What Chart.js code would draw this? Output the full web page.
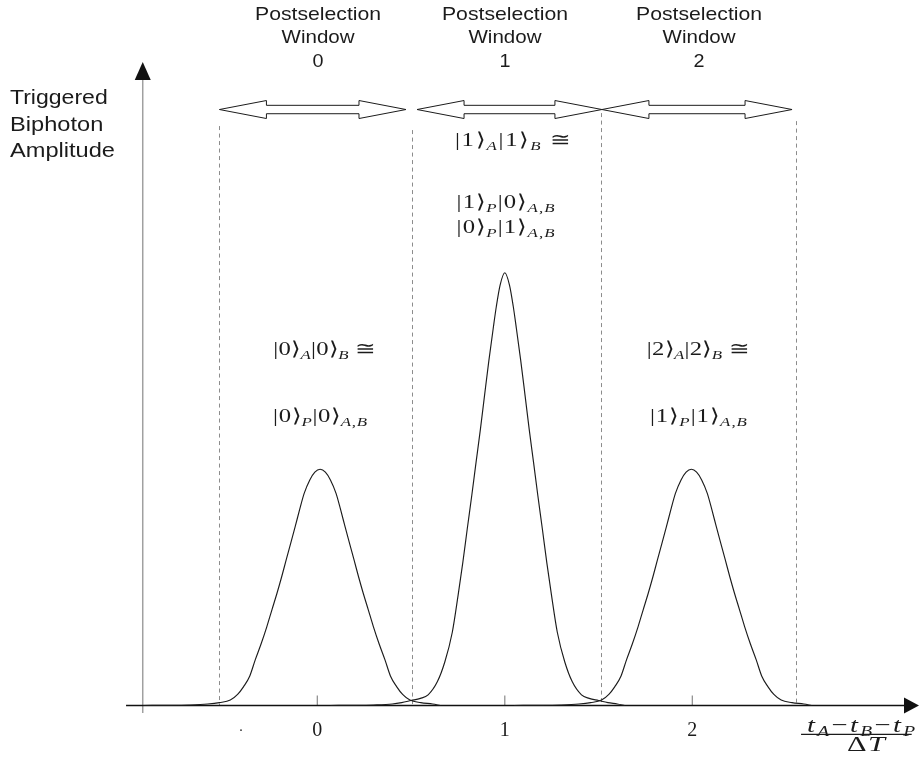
<!DOCTYPE html>
<html>
<head>
<meta charset="utf-8">
<script src="https://cdn.jsdelivr.net/npm/chart.js@4/dist/chart.umd.min.js"></script>
<style>
  html, body { margin: 0; padding: 0; background: #fff; }
  #wrap { width: 920px; height: 758px; position: relative; }
</style>
</head>
<body>
<div id="wrap"><canvas id="c"></canvas></div>
<script>
// Triggered biphoton amplitude versus (tA - tB - tP)/ΔT, one peak per postselection window.
// Amplitudes are relative to the window-0 peak.
const peak0X = [-0.93, -0.785, -0.685, -0.585, -0.522, -0.464, -0.425, -0.393, -0.36, -0.331, -0.30, -0.269,
                -0.242, -0.215, -0.19, -0.166, -0.142, -0.118, -0.094, -0.07, -0.04, -0.013, 0.015,
                0.043, 0.07, 0.10, 0.124, 0.148, 0.172, 0.196, 0.22, 0.245, 0.272, 0.299, 0.33, 0.361,
                0.39, 0.423, 0.455, 0.494, 0.552, 0.615, 0.656];
const peak0Y = [0, 0.0005, 0.002, 0.006, 0.012, 0.023, 0.047, 0.080, 0.125, 0.193, 0.260, 0.334,
                0.405, 0.475, 0.545, 0.616, 0.686, 0.757, 0.830, 0.898, 0.955, 0.988, 1.0,
                0.988, 0.955, 0.898, 0.830, 0.757, 0.686, 0.616, 0.545, 0.475, 0.405, 0.334, 0.260, 0.193,
                0.125, 0.080, 0.047, 0.023, 0.012, 0.006, 0];

const peak1X = [0.07, 0.20, 0.30, 0.40, 0.45, 0.50, 0.55, 0.591, 0.64, 0.68, 0.72, 0.751,
                0.776, 0.80, 0.824, 0.847, 0.87, 0.892, 0.915, 0.938, 0.955, 0.975, 1.0,
                1.025, 1.045, 1.062, 1.085, 1.108, 1.13, 1.153, 1.176, 1.20, 1.224, 1.249, 1.28, 1.32,
                1.36, 1.409, 1.45, 1.50, 1.55, 1.60, 1.64];
const peak1Y = [0, 0.0005, 0.002, 0.006, 0.012, 0.021, 0.03, 0.045, 0.10, 0.184, 0.31, 0.467,
                0.605, 0.749, 0.89, 1.031, 1.17, 1.313, 1.46, 1.595, 1.69, 1.78, 1.832,
                1.78, 1.69, 1.595, 1.46, 1.313, 1.17, 1.031, 0.89, 0.749, 0.605, 0.467, 0.31, 0.184,
                0.10, 0.045, 0.03, 0.021, 0.012, 0.006, 0];

const peak2X = [1.05, 1.195, 1.295, 1.395, 1.458, 1.516, 1.555, 1.587, 1.62, 1.649, 1.68, 1.711,
                1.738, 1.765, 1.79, 1.814, 1.838, 1.862, 1.886, 1.91, 1.94, 1.967, 1.995,
                2.023, 2.05, 2.08, 2.104, 2.128, 2.152, 2.176, 2.20, 2.225, 2.252, 2.279, 2.31, 2.341,
                2.37, 2.403, 2.435, 2.474, 2.532, 2.595, 2.636];
const peak2Y = [0, 0.0005, 0.002, 0.006, 0.012, 0.023, 0.047, 0.080, 0.125, 0.193, 0.260, 0.334,
                0.405, 0.475, 0.545, 0.616, 0.686, 0.757, 0.830, 0.898, 0.955, 0.988, 1.0,
                0.988, 0.955, 0.898, 0.830, 0.757, 0.686, 0.616, 0.545, 0.475, 0.405, 0.334, 0.260, 0.193,
                0.125, 0.080, 0.047, 0.023, 0.012, 0.006, 0];

const tickValues = [0, 1, 2];
const tickLabels = ["0", "1", "2"];

const windowWords = ["Postselection", "Window"];
const windowIds = ["0", "1", "2"];
const windowEdges = [-0.522, 0.507, 1.512, 2.551];

const yTitleLines = ["Triggered", "Biphoton", "Amplitude"];
const xTitleNum = "t_A\u2212t_B\u2212t_P";
const xTitleDen = "\u0394T";

const stateLabels0 = ["|0\u27E9_A|0\u27E9_B \u2245", "|0\u27E9_P|0\u27E9_{A,B}"];
const stateLabels1 = ["|1\u27E9_A|1\u27E9_B \u2245", "|1\u27E9_P|0\u27E9_{A,B}", "|0\u27E9_P|1\u27E9_{A,B}"];
const stateLabels2 = ["|2\u27E9_A|2\u27E9_B \u2245", "|1\u27E9_P|1\u27E9_{A,B}"];

// ---- drawing setup ----
const X_MIN = -1.0, X_MAX = 3.2, Y_MIN = -0.2, Y_MAX = 2.8;
const SERIF = "'Liberation Serif', 'DejaVu Serif', serif";
const BRACKET = "'Noto Sans CJK JP', 'DejaVu Sans', serif";
const SANS = "'Liberation Sans', Arial, sans-serif";
const INK = '#1b1b1b';

// placement of annotations, in data units
const place = {
  titleX: [0.004, 1.001, 2.036],
  titleRows: [2.904, 2.805, 2.703],
  titleW: [126, 73],
  yTitleX: -1.639,
  yTitleRows: [2.5465, 2.4335, 2.321],
  yTitleW: [97.7, 93.3, 105],
  edgeTops: [2.453, 2.436, 2.508, 2.474],
  arrowY: 2.523,
  arrowSpans: [[-0.522, 0.473], [0.532, 1.518], [1.518, 2.532]],
  yAxisX: -0.931, yAxisLow: -0.032, yAxisTip: 2.724,
  xAxisLow: -1.02, xAxisTip: 3.209,
  tickLabelY: -0.131,
  dot: [-0.407, -0.108],
  states0: { x: [-0.235, -0.236], y: [1.484, 1.2015], w: [103, 94] },
  states1: { x: [0.734, 0.743, 0.743], y: [2.369, 2.105, 2.002], w: [116, 98, 98] },
  states2: { x: [1.757, 1.774], y: [1.484, 1.2015], w: [103, 97] },
  fracX: 2.90, numY: -0.111, barY: -0.122, denY: -0.193, barSpan: [2.580, 3.170], numW: 108, denW: 38
};

function parseTex(s) {
  const out = [];
  let i = 0;
  while (i < s.length) {
    if (s[i] === '_') {
      let sub;
      if (s[i + 1] === '{') { const j = s.indexOf('}', i); sub = s.slice(i + 2, j); i = j + 1; }
      else { sub = s[i + 1]; i += 2; }
      for (const ch of sub) out.push({ t: ch, sub: true, it: /[A-Za-z]/.test(ch) });
    } else {
      const ch = s[i];
      out.push({ t: ch, sub: false, it: /[A-Za-z]/.test(ch) });
      i++;
    }
  }
  return out;
}

// Draws a small formula; glyphs are widened at most by maxStretch, the rest of
// the requested width goes into the gaps between glyphs.
function drawTex(ctx, str, x, y, o) {
  const segs = parseTex(str);
  let total = 0;
  segs.forEach(sg => {
    const size = sg.sub ? o.sub : o.size;
    if (sg.t === '\u27E9') sg.font = '300 ' + size + 'px ' + BRACKET;
    else sg.font = (sg.it ? 'italic ' : '') + size + 'px ' + SERIF;
    ctx.font = sg.font;
    const m = ctx.measureText(sg.t);
    // use the inked extent for brackets so a wide em box does not add space
    sg.w = sg.t === '\u27E9' ? Math.min(m.width, (m.actualBoundingBoxRight + m.actualBoundingBoxLeft) + size * 0.12) : m.width;
    sg.lead = sg.t === '\u27E9' ? Math.min(0, -m.actualBoundingBoxLeft + size * 0.04) : 0;
    total += sg.w;
  });
  let sx = 1, gap = 0;
  if (o.width) {
    sx = Math.min(o.width / total, o.maxStretch || 1.12);
    if (segs.length > 1) gap = (o.width - total * sx) / (segs.length - 1);
  }
  const full = total * sx + gap * (segs.length - 1);
  const start = o.align === 'center' ? x - full / 2 : x;
  ctx.save();
  ctx.fillStyle = INK;
  ctx.textAlign = 'left';
  ctx.textBaseline = 'alphabetic';
  let cx = start;
  segs.forEach(sg => {
    ctx.save();
    ctx.translate(cx, y + (sg.sub ? o.subDy : 0));
    ctx.scale(sx, 1);
    ctx.font = sg.font;
    ctx.fillText(sg.t, sg.lead || 0, 0);
    ctx.restore();
    cx += sg.w * sx + gap;
  });
  ctx.restore();
}

function drawSans(ctx, str, x, y, size, width, align) {
  ctx.save();
  ctx.font = size + 'px ' + SANS;
  const w = ctx.measureText(str).width;
  const sx = width ? width / w : 1;
  const start = align === 'center' ? x - w * sx / 2 : x;
  ctx.translate(start, y);
  ctx.scale(sx, 1);
  ctx.fillStyle = INK;
  ctx.textAlign = 'left';
  ctx.textBaseline = 'alphabetic';
  ctx.fillText(str, 0, 0);
  ctx.restore();
}

function hollowArrow(ctx, xa, xb, yc) {
  const L = 47, H = 9, h = 4.2;
  ctx.beginPath();
  ctx.moveTo(xa, yc);
  ctx.lineTo(xa + L, yc - H);
  ctx.lineTo(xa + L, yc - h);
  ctx.lineTo(xb - L, yc - h);
  ctx.lineTo(xb - L, yc - H);
  ctx.lineTo(xb, yc);
  ctx.lineTo(xb - L, yc + H);
  ctx.lineTo(xb - L, yc + h);
  ctx.lineTo(xa + L, yc + h);
  ctx.lineTo(xa + L, yc + H);
  ctx.closePath();
  ctx.fillStyle = '#fff';
  ctx.fill();
  ctx.strokeStyle = INK;
  ctx.lineWidth = 1;
  ctx.stroke();
}

const underlay = {
  id: 'underlay',
  beforeDatasetsDraw(chart) {
    const { ctx, scales: { x, y } } = chart;
    const X = v => x.getPixelForValue(v), Y = v => y.getPixelForValue(v);
    ctx.save();
    // window boundaries
    ctx.strokeStyle = '#8c8c8c';
    ctx.lineWidth = 1;
    ctx.setLineDash([4, 3.5]);
    windowEdges.forEach((e, i) => {
      ctx.beginPath();
      ctx.moveTo(Math.round(X(e)) + 0.5, Y(place.edgeTops[i]));
      ctx.lineTo(Math.round(X(e)) + 0.5, Y(0));
      ctx.stroke();
    });
    ctx.setLineDash([]);
    // vertical axis
    ctx.strokeStyle = '#a0a0a0';
    ctx.lineWidth = 1.5;
    ctx.beginPath();
    ctx.moveTo(X(place.yAxisX), Y(place.yAxisLow));
    ctx.lineTo(X(place.yAxisX), Y(place.yAxisTip) + 14);
    ctx.stroke();
    // tick marks
    ctx.strokeStyle = '#8a8a8a';
    ctx.lineWidth = 1.2;
    tickValues.forEach(v => {
      ctx.beginPath();
      ctx.moveTo(X(v), Y(0));
      ctx.lineTo(X(v), Y(0) - 10);
      ctx.stroke();
    });
    // horizontal axis
    ctx.strokeStyle = '#111';
    ctx.lineWidth = 1.6;
    ctx.beginPath();
    ctx.moveTo(X(place.xAxisLow), Y(0));
    ctx.lineTo(X(place.xAxisTip) - 10, Y(0));
    ctx.stroke();
    ctx.restore();
  },
  afterDatasetsDraw(chart) {
    const { ctx, scales: { x, y } } = chart;
    const X = v => x.getPixelForValue(v), Y = v => y.getPixelForValue(v);
    ctx.save();
    // arrowheads of the axes
    ctx.fillStyle = '#111';
    const tx = X(place.xAxisTip), ty = Y(0);
    ctx.beginPath();
    ctx.moveTo(tx, ty); ctx.lineTo(tx - 15, ty - 8); ctx.lineTo(tx - 15, ty + 8); ctx.closePath(); ctx.fill();
    const ax = X(place.yAxisX), ay = Y(place.yAxisTip);
    ctx.beginPath();
    ctx.moveTo(ax, ay); ctx.lineTo(ax - 8, ay + 18); ctx.lineTo(ax + 8, ay + 18); ctx.closePath(); ctx.fill();

    // postselection window arrows
    place.arrowSpans.forEach(s => hollowArrow(ctx, X(s[0]), X(s[1]), Y(place.arrowY)));

    // window titles
    windowIds.forEach((id, i) => {
      const cx = X(place.titleX[i]);
      drawSans(ctx, windowWords[0], cx, Y(place.titleRows[0]), 18.5, place.titleW[0], 'center');
      drawSans(ctx, windowWords[1], cx, Y(place.titleRows[1]), 18.5, place.titleW[1], 'center');
      drawSans(ctx, id, cx, Y(place.titleRows[2]), 18.5, 11, 'center');
    });

    // vertical axis title
    yTitleLines.forEach((t, i) => {
      drawSans(ctx, t, X(place.yTitleX), Y(place.yTitleRows[i]), 21, place.yTitleW[i], 'left');
    });

    // tick labels
    tickValues.forEach((v, i) => {
      drawTex(ctx, tickLabels[i], X(v), Y(place.tickLabelY), { size: 20, sub: 14, subDy: 4, align: 'center' });
    });
    drawTex(ctx, '.', X(place.dot[0]), Y(place.dot[1]), { size: 14, sub: 10, subDy: 3, align: 'center' });

    // horizontal axis title as a fraction
    drawTex(ctx, xTitleNum, X(place.fracX), Y(place.numY), { size: 22, sub: 15, subDy: 4, width: place.numW, maxStretch: 1.3, align: 'center' });
    ctx.strokeStyle = INK;
    ctx.lineWidth = 1.3;
    ctx.beginPath();
    ctx.moveTo(X(place.barSpan[0]), Y(place.barY));
    ctx.lineTo(X(place.barSpan[1]), Y(place.barY));
    ctx.stroke();
    drawTex(ctx, xTitleDen, X(place.fracX) + 5, Y(place.denY), { size: 21, sub: 14, subDy: 4, width: place.denW, maxStretch: 1.45, align: 'center' });

    // state labels of each window
    const groups = [[stateLabels0, place.states0], [stateLabels1, place.states1], [stateLabels2, place.states2]];
    groups.forEach(([lines, p]) => {
      lines.forEach((s, i) => {
        drawTex(ctx, s, X(p.x[i]), Y(p.y[i]), { size: 19, sub: 13, subDy: 4, width: p.w[i], maxStretch: 1.3, align: 'left' });
      });
    });
    ctx.restore();
  }
};

function series(xs, ys) { return xs.map((v, i) => ({ x: v, y: ys[i] })); }
const curveStyle = { borderColor: '#1c1c1c', borderWidth: 1.15, pointRadius: 0, fill: false, cubicInterpolationMode: 'monotone' };

new Chart(document.getElementById('c'), {
  type: 'line',
  data: {
    datasets: [
      Object.assign({ label: 'Window 0', data: series(peak0X, peak0Y) }, curveStyle),
      Object.assign({ label: 'Window 1', data: series(peak1X, peak1Y) }, curveStyle),
      Object.assign({ label: 'Window 2', data: series(peak2X, peak2Y) }, curveStyle)
    ]
  },
  options: {
    responsive: true,
    maintainAspectRatio: false,
    animation: false,
    layout: { padding: { left: 129.8, right: 2.7, top: 44.1, bottom: 5.3 } },
    plugins: { legend: { display: false }, tooltip: { enabled: false } },
    scales: {
      x: { type: 'linear', min: X_MIN, max: X_MAX, display: false },
      y: { type: 'linear', min: Y_MIN, max: Y_MAX, display: false }
    }
  },
  plugins: [underlay]
});
</script>
</body>
</html>
